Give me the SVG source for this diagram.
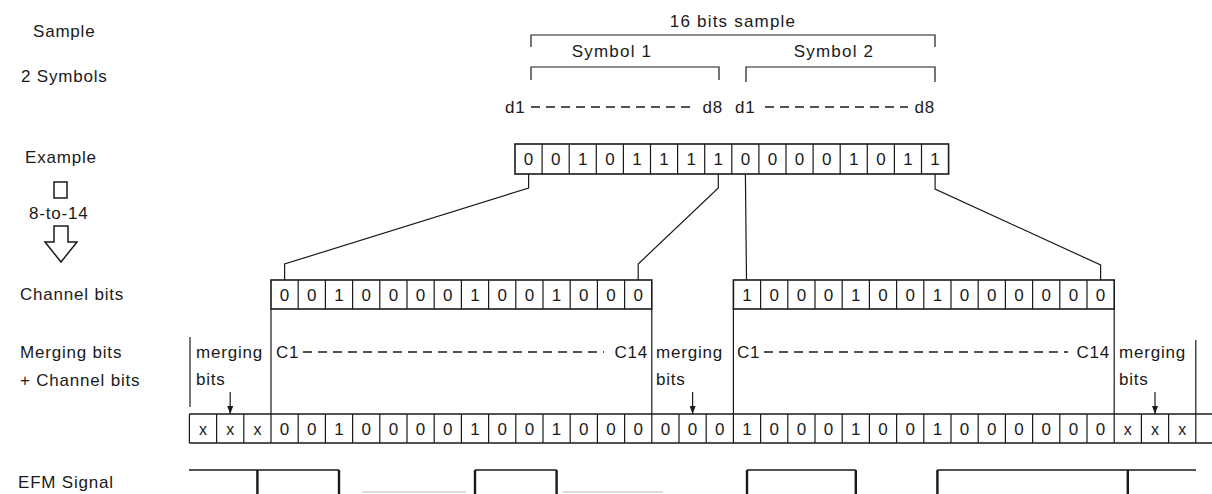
<svg xmlns="http://www.w3.org/2000/svg" width="1212" height="494" viewBox="0 0 1212 494">
<style>
text{font-family:"Liberation Sans",Arial,sans-serif;font-size:17px;fill:#1a1a1a;letter-spacing:0.8px}
.c{text-anchor:middle;letter-spacing:0}
.e{text-anchor:end}
.box{fill:#fff;stroke:#1a1a1a;stroke-width:1.6}
.div{stroke:#1a1a1a;stroke-width:1.2}
.ln{fill:none;stroke:#1a1a1a;stroke-width:1.2}
.dash{stroke:#1a1a1a;stroke-width:1.3;stroke-dasharray:9 6}
.sig{fill:none;stroke:#1a1a1a;stroke-width:1.4}
.sigv{stroke:#1a1a1a;stroke-width:2.4}
.faint{stroke:#d0d0d0;stroke-width:1.4}
</style>
<defs>
<marker id="ah" viewBox="0 0 8 6" refX="8" refY="3" markerWidth="8" markerHeight="6" markerUnits="userSpaceOnUse" orient="auto">
<path d="M0,0 L8,3 L0,6 z" fill="#1a1a1a"/>
</marker>
</defs>
<rect width="1212" height="494" fill="#fff"/>

<g id="labels">
<text x="33" y="37">Sample</text>
<text x="21" y="82">2 Symbols</text>
<text x="25" y="163">Example</text>
<rect x="54" y="182" width="13" height="16" fill="none" stroke="#1a1a1a" stroke-width="1.5"/>
<text x="29" y="219">8-to-14</text>
<polygon points="54,226 68,226 68,242 77,242 61,262 45,242 54,242" fill="none" stroke="#1a1a1a" stroke-width="1.5"/>
<text x="20" y="300">Channel bits</text>
<text x="20" y="358">Merging bits</text>
<text x="20" y="386">+ Channel bits</text>
<text x="18" y="488">EFM Signal</text>
</g>

<g id="sample-brackets">
<text class="c" x="733" y="27" style="letter-spacing:1.2px">16 bits sample</text>
<path class="ln" d="M531,47 V35 H935 V47"/>
<text class="c" x="612" y="57" style="letter-spacing:1.2px">Symbol 1</text>
<text class="c" x="834" y="57" style="letter-spacing:1.2px">Symbol 2</text>
<path class="ln" d="M531,80 V67 H719 V80"/>
<path class="ln" d="M746,82 V67 H935 V82"/>
<text x="505" y="113">d1</text>
<line class="dash" x1="531" y1="107" x2="692" y2="107"/>
<text class="e" x="723" y="113">d8</text>
<text x="735" y="113">d1</text>
<line class="dash" x1="765" y1="107" x2="908" y2="107"/>
<text class="e" x="935" y="113">d8</text>
</g>

<g id="example-row">
<rect class="box" x="515" y="144" width="433.6" height="30"/>
<path class="div" d="M542.1,144V174M569.2,144V174M596.3,144V174M623.4,144V174M650.5,144V174M677.6,144V174M704.7,144V174M731.8,144V174M758.9,144V174M786,144V174M813.1,144V174M840.2,144V174M867.3,144V174M894.4,144V174M921.5,144V174"/>
<text class="c" x="528.6" y="165">0</text><text class="c" x="555.7" y="165">0</text><text class="c" x="582.8" y="165">1</text><text class="c" x="609.9" y="165">0</text>
<text class="c" x="637" y="165">1</text><text class="c" x="664.1" y="165">1</text><text class="c" x="691.2" y="165">1</text><text class="c" x="718.3" y="165">1</text>
<text class="c" x="745.4" y="165">0</text><text class="c" x="772.5" y="165">0</text><text class="c" x="799.6" y="165">0</text><text class="c" x="826.7" y="165">0</text>
<text class="c" x="853.8" y="165">1</text><text class="c" x="880.9" y="165">0</text><text class="c" x="908" y="165">1</text><text class="c" x="935.1" y="165">1</text>
</g>

<g id="channel-row-1">
<rect class="box" x="271" y="280" width="380.8" height="29"/>
<path class="div" d="M298.2,280V309M325.4,280V309M352.6,280V309M379.8,280V309M407,280V309M434.2,280V309M461.4,280V309M488.6,280V309M515.8,280V309M543,280V309M570.2,280V309M597.4,280V309M624.6,280V309"/>
<text class="c" x="284.6" y="301">0</text><text class="c" x="311.8" y="301">0</text><text class="c" x="339" y="301">1</text><text class="c" x="366.2" y="301">0</text>
<text class="c" x="393.4" y="301">0</text><text class="c" x="420.6" y="301">0</text><text class="c" x="447.8" y="301">0</text><text class="c" x="475" y="301">1</text>
<text class="c" x="502.2" y="301">0</text><text class="c" x="529.4" y="301">0</text><text class="c" x="556.6" y="301">1</text><text class="c" x="583.8" y="301">0</text>
<text class="c" x="611" y="301">0</text><text class="c" x="638.2" y="301">0</text>
</g>

<g id="channel-row-2">
<rect class="box" x="733.4" y="280" width="380.8" height="29"/>
<path class="div" d="M760.6,280V309M787.8,280V309M815,280V309M842.2,280V309M869.4,280V309M896.6,280V309M923.8,280V309M951,280V309M978.2,280V309M1005.4,280V309M1032.6,280V309M1059.8,280V309M1087,280V309"/>
<text class="c" x="747" y="301">1</text><text class="c" x="774.2" y="301">0</text><text class="c" x="801.4" y="301">0</text><text class="c" x="828.6" y="301">0</text>
<text class="c" x="855.8" y="301">1</text><text class="c" x="883" y="301">0</text><text class="c" x="910.2" y="301">0</text><text class="c" x="937.4" y="301">1</text>
<text class="c" x="964.6" y="301">0</text><text class="c" x="991.8" y="301">0</text><text class="c" x="1019" y="301">0</text><text class="c" x="1046.2" y="301">0</text>
<text class="c" x="1073.4" y="301">0</text><text class="c" x="1100.6" y="301">0</text>
</g>

<g id="merging-labels">
<line class="ln" x1="190" y1="337" x2="190" y2="407"/>
<text x="196" y="358">merging</text>
<text x="196" y="385">bits</text>
<text x="276" y="358">C1</text>
<line class="dash" x1="303" y1="352" x2="604" y2="352"/>
<text class="e" x="648" y="358">C14</text>
<text x="656" y="358">merging</text>
<text x="656" y="385">bits</text>
<text x="737" y="358">C1</text>
<line class="dash" x1="764" y1="352" x2="1068" y2="352"/>
<text class="e" x="1110" y="358">C14</text>
<text x="1119" y="358">merging</text>
<text x="1119" y="385">bits</text>
<line class="ln" x1="1195.8" y1="340" x2="1195.8" y2="414"/>
</g>

<g id="merging-row">
<path class="div" d="M189.4,414H1212M189.4,443H1212" style="stroke-width:1.6"/>
<path class="div" d="M189.4,414V443M216.6,414V443M243.8,414V443M271,414V443M298.2,414V443M325.4,414V443M352.6,414V443M379.8,414V443M407,414V443M434.2,414V443M461.4,414V443M488.6,414V443M515.8,414V443M543,414V443M570.2,414V443M597.4,414V443M624.6,414V443M651.8,414V443M679,414V443M706.2,414V443M733.4,414V443M760.6,414V443M787.8,414V443M815,414V443M842.2,414V443M869.4,414V443M896.6,414V443M923.8,414V443M951,414V443M978.2,414V443M1005.4,414V443M1032.6,414V443M1059.8,414V443M1087,414V443M1114.2,414V443M1141.4,414V443M1168.6,414V443M1195.8,414V443"/>
<text class="c" x="203" y="435" style="font-size:16px">x</text><text class="c" x="230.2" y="435" style="font-size:16px">x</text><text class="c" x="257.4" y="435" style="font-size:16px">x</text>
<text class="c" x="284.6" y="435">0</text><text class="c" x="311.8" y="435">0</text><text class="c" x="339" y="435">1</text><text class="c" x="366.2" y="435">0</text>
<text class="c" x="393.4" y="435">0</text><text class="c" x="420.6" y="435">0</text><text class="c" x="447.8" y="435">0</text><text class="c" x="475" y="435">1</text>
<text class="c" x="502.2" y="435">0</text><text class="c" x="529.4" y="435">0</text><text class="c" x="556.6" y="435">1</text><text class="c" x="583.8" y="435">0</text>
<text class="c" x="611" y="435">0</text><text class="c" x="638.2" y="435">0</text>
<text class="c" x="665.4" y="435">0</text><text class="c" x="692.6" y="435">0</text><text class="c" x="719.8" y="435">0</text>
<text class="c" x="747" y="435">1</text><text class="c" x="774.2" y="435">0</text><text class="c" x="801.4" y="435">0</text><text class="c" x="828.6" y="435">0</text>
<text class="c" x="855.8" y="435">1</text><text class="c" x="883" y="435">0</text><text class="c" x="910.2" y="435">0</text><text class="c" x="937.4" y="435">1</text>
<text class="c" x="964.6" y="435">0</text><text class="c" x="991.8" y="435">0</text><text class="c" x="1019" y="435">0</text><text class="c" x="1046.2" y="435">0</text>
<text class="c" x="1073.4" y="435">0</text><text class="c" x="1100.6" y="435">0</text>
<text class="c" x="1127.8" y="435" style="font-size:16px">x</text><text class="c" x="1155" y="435" style="font-size:16px">x</text><text class="c" x="1182.2" y="435" style="font-size:16px">x</text>
</g>

<g id="efm-signal">
<path class="sig" d="M189,470 H339 M475,470 H556.6 M747,470 H855.8 M937.4,470 H1196"/>
<path class="sigv" d="M257.4,470V494M339,470V494M475,470V494M556.6,470V494M747,470V494M855.8,470V494M937.4,470V494M1127.8,470V494"/>
<path class="faint" d="M362,492H466M563,492H663"/>
</g>

<g id="connectors">
<polyline class="ln" points="528.6,174 528.6,188 284.6,264 284.6,280"/>
<polyline class="ln" points="718.3,174 718.3,188 638.2,264 638.2,280"/>
<polyline class="ln" points="745.4,174 746.5,280"/>
<polyline class="ln" points="935.1,174 935.1,189 1100.6,265 1100.6,280"/>
<line class="ln" x1="271" y1="309" x2="271" y2="414"/>
<line class="ln" x1="651.8" y1="309" x2="651.8" y2="414"/>
<line class="ln" x1="733.4" y1="309" x2="733.4" y2="414"/>
<line class="ln" x1="1114.2" y1="309" x2="1114.2" y2="414"/>
<line class="ln" x1="230.2" y1="392" x2="230.2" y2="414" marker-end="url(#ah)"/>
<line class="ln" x1="692.6" y1="392" x2="692.6" y2="414" marker-end="url(#ah)"/>
<line class="ln" x1="1155" y1="392" x2="1155" y2="414" marker-end="url(#ah)"/>
</g>
</svg>
